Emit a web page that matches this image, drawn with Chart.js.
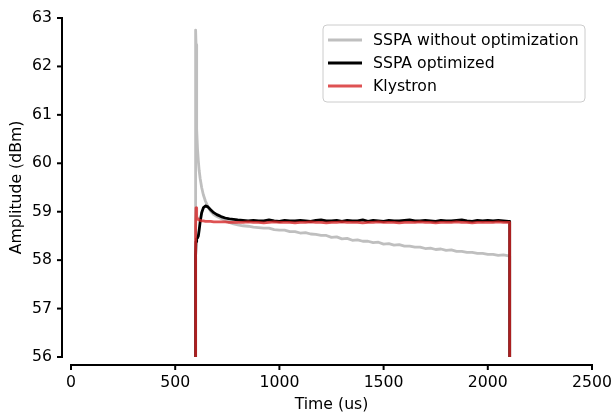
<!DOCTYPE html>
<html>
<head>
<meta charset="utf-8">
<script src="https://cdn.jsdelivr.net/npm/chart.js@4.4.1/dist/chart.umd.min.js"></script>
<style>
  html, body { margin: 0; padding: 0; background: #ffffff; }
  #wrap { width: 612px; height: 414px; }
</style>
</head>
<body>
<div id="wrap"><canvas id="c" width="612" height="414"></canvas></div>
<script>
// ---- data ----
const seriesNames = ["SSPA without optimization", "SSPA optimized", "Klystron"];

const timeUs = [
  597, 598, 600, 602, 604, 607, 611, 615, 620, 627, 635, 645, 657, 670, 685, 700, 720, 740, 760, 780, 800,
  825, 850, 875, 900, 925, 950, 975, 1000, 1025, 1050, 1075, 1100, 1125,
  1150, 1175, 1200, 1225, 1250, 1275, 1300, 1325, 1350, 1375, 1400, 1425,
  1450, 1475, 1500, 1525, 1550, 1575, 1600, 1625, 1650, 1675, 1700, 1725,
  1750, 1775, 1800, 1825, 1850, 1875, 1900, 1925, 1950, 1975, 2000, 2025,
  2050, 2075, 2100,
  2105, 2105
];

const sspaNoOpt = [
  55, 62.75, 62.45, 61.35, 60.7, 60.3, 60.05, 59.85, 59.68, 59.5, 59.35, 59.22, 59.1, 59.01, 58.94, 58.9, 58.86, 58.82, 58.78, 58.75, 58.73,
  58.71, 58.70, 58.68, 58.67, 58.66, 58.66, 58.63, 58.62, 58.62, 58.59, 58.59, 58.56, 58.57,
  58.54, 58.53, 58.51, 58.51, 58.47, 58.48, 58.44, 58.45, 58.41, 58.42, 58.39, 58.39,
  58.36, 58.37, 58.33, 58.34, 58.31, 58.32, 58.29, 58.29, 58.27, 58.27, 58.24, 58.25,
  58.22, 58.23, 58.20, 58.21, 58.18, 58.18, 58.16, 58.16, 58.14, 58.14, 58.12, 58.12,
  58.10, 58.11, 58.09,
  58.09, 55
];

const sspaOpt = [
  55, 58.1, 58.38, 58.42, 58.44, 58.46, 58.5, 58.62, 58.8, 58.98, 59.08, 59.12, 59.1, 59.04, 58.98, 58.94, 58.9, 58.87, 58.85, 58.84, 58.83,
  58.82, 58.81, 58.82, 58.81, 58.81, 58.83, 58.81, 58.80, 58.82, 58.81, 58.81, 58.82, 58.81,
  58.80, 58.82, 58.83, 58.81, 58.81, 58.82, 58.80, 58.82, 58.81, 58.81, 58.83, 58.80,
  58.82, 58.81, 58.80, 58.82, 58.81, 58.81, 58.82, 58.83, 58.81, 58.81, 58.82, 58.81,
  58.80, 58.82, 58.81, 58.81, 58.82, 58.83, 58.81, 58.80, 58.82, 58.81, 58.82, 58.81,
  58.82, 58.81, 58.80,
  58.80, 55
];

const klystron = [
  55, 58.7, 59.08, 58.98, 58.9, 58.86, 58.84, 58.83, 58.82, 58.81, 58.81, 58.8, 58.8, 58.8, 58.79, 58.79, 58.79, 58.79, 58.78, 58.78, 58.78,
  58.78, 58.79, 58.78, 58.78, 58.77, 58.78, 58.79, 58.78, 58.78, 58.78, 58.77, 58.78, 58.78,
  58.79, 58.78, 58.78, 58.77, 58.78, 58.78, 58.79, 58.78, 58.78, 58.78, 58.77, 58.78,
  58.78, 58.79, 58.78, 58.78, 58.78, 58.77, 58.78, 58.78, 58.78, 58.79, 58.78, 58.78,
  58.77, 58.78, 58.78, 58.78, 58.79, 58.78, 58.78, 58.77, 58.78, 58.78, 58.78, 58.78,
  58.79, 58.78, 58.78,
  58.78, 55
];

const xTicks = [0, 500, 1000, 1500, 2000, 2500];
const yTicks = [56, 57, 58, 59, 60, 61, 62, 63];

// ---- styling ----
const FONT = "'DejaVu Sans', 'Liberation Sans', sans-serif";
const FS = 15.7;
const colors = ["#bfbfbf", "#000000", "rgba(214,39,40,0.8)"];
const valueSets = [sspaNoOpt, sspaOpt, klystron];
const drawOrder = [2, 1, 0]; // red on top, gray at the bottom

const toPoints = (vals) => timeUs.map((t, i) => ({ x: t, y: vals[i] }));

const datasets = seriesNames.map((name, k) => ({
  label: name,
  data: toPoints(valueSets[k]),
  order: drawOrder[k],
  borderColor: colors[k],
  backgroundColor: colors[k],
  borderWidth: 2.8,
  pointRadius: 0,
  tension: 0,
  fill: false,
  clip: 0,
  borderJoinStyle: 'round',
  borderCapStyle: 'butt'
}));

// offset spines + tick marks (matplotlib-like)
const spinePlugin = {
  id: 'spines',
  afterDatasetsDraw(chart) {
    const { ctx, chartArea, scales } = chart;
    const xs = scales.x, ys = scales.y;
    const ySpineX = chartArea.left - 9;
    const xSpineY = chartArea.bottom + 8;
    ctx.save();
    ctx.strokeStyle = '#000';
    ctx.lineWidth = 2;
    ctx.lineCap = 'butt';
    ctx.beginPath();
    ctx.moveTo(ySpineX, ys.getPixelForValue(yTicks[yTicks.length - 1]) - 1);
    ctx.lineTo(ySpineX, ys.getPixelForValue(yTicks[0]) + 1);
    ctx.stroke();
    yTicks.forEach(v => {
      const py = ys.getPixelForValue(v);
      ctx.beginPath();
      ctx.moveTo(ySpineX - 5, py);
      ctx.lineTo(ySpineX + 1, py);
      ctx.stroke();
    });
    ctx.beginPath();
    ctx.moveTo(xs.getPixelForValue(xTicks[0]) - 1, xSpineY);
    ctx.lineTo(xs.getPixelForValue(xTicks[xTicks.length - 1]) + 1, xSpineY);
    ctx.stroke();
    xTicks.forEach(v => {
      const px = xs.getPixelForValue(v);
      ctx.beginPath();
      ctx.moveTo(px, xSpineY - 1);
      ctx.lineTo(px, xSpineY + 5);
      ctx.stroke();
    });
    ctx.restore();
  }
};

// legend box in the upper right of the axes
const legendPlugin = {
  id: 'boxLegend',
  afterDatasetsDraw(chart) {
    const { ctx } = chart;
    const x0 = 323, y0 = 25, w = 262, h = 77, r = 4;
    ctx.save();
    ctx.beginPath();
    ctx.moveTo(x0 + r, y0);
    ctx.lineTo(x0 + w - r, y0);
    ctx.arcTo(x0 + w, y0, x0 + w, y0 + r, r);
    ctx.lineTo(x0 + w, y0 + h - r);
    ctx.arcTo(x0 + w, y0 + h, x0 + w - r, y0 + h, r);
    ctx.lineTo(x0 + r, y0 + h);
    ctx.arcTo(x0, y0 + h, x0, y0 + h - r, r);
    ctx.lineTo(x0, y0 + r);
    ctx.arcTo(x0, y0, x0 + r, y0, r);
    ctx.closePath();
    ctx.fillStyle = 'rgba(255,255,255,0.8)';
    ctx.fill();
    ctx.strokeStyle = '#cccccc';
    ctx.lineWidth = 1;
    ctx.stroke();
    ctx.font = FS + 'px ' + FONT;
    ctx.textBaseline = 'middle';
    ctx.textAlign = 'left';
    seriesNames.forEach((name, k) => {
      const yy = 40 + k * 23;
      ctx.strokeStyle = colors[k];
      ctx.lineWidth = 2.8;
      ctx.beginPath();
      ctx.moveTo(328, yy);
      ctx.lineTo(362, yy);
      ctx.stroke();
      ctx.fillStyle = '#000';
      ctx.fillText(name, 373, yy + 1);
    });
    ctx.restore();
  }
};

new Chart(document.getElementById('c'), {
  type: 'line',
  data: { datasets },
  options: {
    responsive: false,
    animation: false,
    devicePixelRatio: 1,
    layout: { padding: { left: 0, right: 20, top: 18, bottom: 0 } },
    plugins: {
      legend: { display: false },
      tooltip: { enabled: false }
    },
    scales: {
      x: {
        type: 'linear',
        min: 0,
        max: 2500,
        afterBuildTicks(scale) { scale.ticks = xTicks.map(v => ({ value: v })); },
        afterFit(scale) { scale.height = 57; scale.paddingLeft = 0; scale.paddingRight = 0; },
        grid: { display: false, drawTicks: true, tickLength: 13 },
        border: { display: false },
        ticks: {
          color: '#000',
          font: { family: FONT, size: FS },
          padding: 4,
          maxRotation: 0,
          autoSkip: false,
          callback: (v) => String(v)
        },
        title: {
          display: true,
          text: 'Time (us)',
          color: '#000',
          font: { family: FONT, size: FS },
          padding: { top: 0, bottom: 0 }
        }
      },
      y: {
        type: 'linear',
        min: 56,
        max: 63,
        afterBuildTicks(scale) { scale.ticks = yTicks.map(v => ({ value: v })); },
        afterFit(scale) { scale.width = 71; scale.paddingTop = 0; scale.paddingBottom = 0; },
        grid: { display: false, drawTicks: true, tickLength: 14 },
        border: { display: false },
        ticks: {
          color: '#000',
          font: { family: FONT, size: FS },
          padding: 5,
          autoSkip: false,
          callback: (v) => String(v)
        },
        title: {
          display: true,
          text: 'Amplitude (dBm)',
          color: '#000',
          font: { family: FONT, size: FS },
          padding: { top: 8, bottom: 0 }
        }
      }
    }
  },
  plugins: [spinePlugin, legendPlugin]
});
</script>
</body>
</html>
